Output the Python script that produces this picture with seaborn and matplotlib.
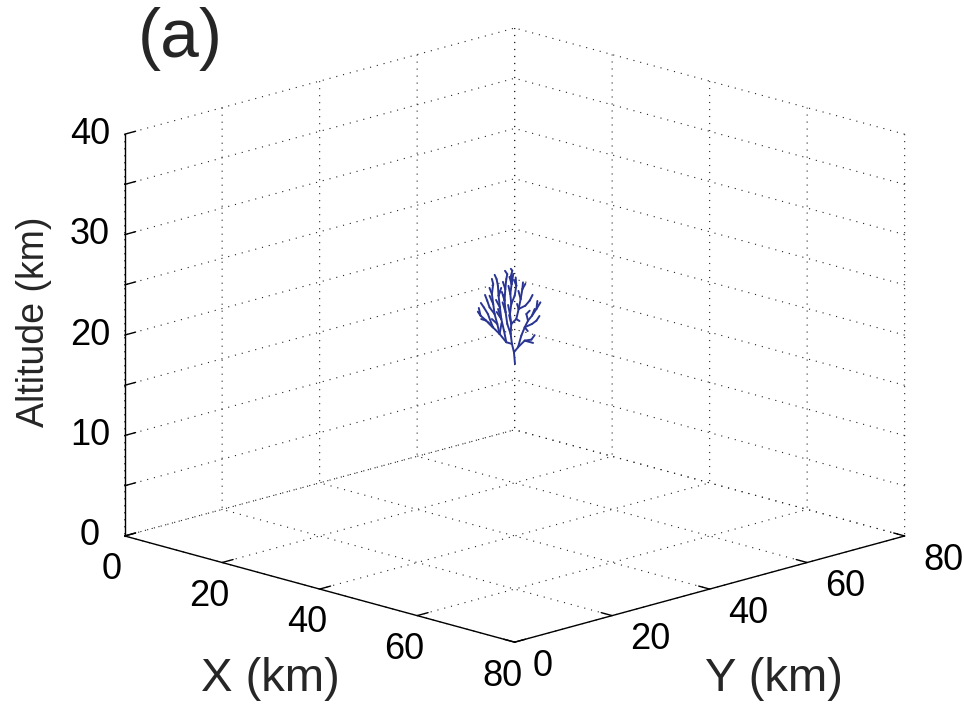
import numpy as np
import matplotlib
matplotlib.use("Agg")
import matplotlib.pyplot as plt
import seaborn as sns

sns.set_theme(style="white")
plt.rcParams["font.family"] = ["Liberation Sans", "DejaVu Sans"]

# Axis ticks (km)
xy_ticks = [0, 20, 40, 60, 80]
xy_labels = ["0", "20", "40", "60", "80"]
z_ticks = [0, 5, 10, 15, 20, 25, 30, 35, 40]
z_labels = ["0", "", "10", "", "20", "", "30", "", "40"]

# Streamer tree: node offset across the line of sight (km), altitude (km), parent node
tree_h = [0.05, -0.10, -0.39, -0.58, -0.49, -0.68, -0.49, -0.63, -0.44, -0.53,
          -0.34, -1.21, -2.18, -3.16, -4.13, -4.95, -5.34, -2.52, -2.91, -3.11,
          -3.30, -3.11, -3.88, -4.47, -4.85, -1.55, -1.94, -2.14, -2.33, -2.43,
          -2.62, -1.07, -1.31, -1.46, -1.36, -1.21, -1.07, -1.75, -3.64, -3.98,
          -3.64, 0.49, 1.46, 2.43, 2.67, 0.97, 1.46, 1.94, 2.52, 3.16,
          3.74, 0.24, 0.58, 0.87, 1.12, 1.21, 1.55, 2.18, 0.00, 0.24,
          0.15, 2.52, 3.16, 1.70, 2.18, -0.95, -0.90, -0.75, -2.60, -2.70,
          -1.95, -1.85, -1.70, -3.65, -3.30, -4.90, -5.20, 0.55, 1.55, 2.60,
          3.30, 2.90, 3.60, 2.90, -0.10, -0.55, -1.40, -2.90, -3.30, -4.30,
          -1.90, -0.20, -1.60, -2.40, -0.80, 0.70, 1.90, -3.90, -2.10, 0.35]
tree_z = [17.13, 18.29, 19.12, 20.11, 21.11, 22.10, 23.09, 24.09, 25.08, 25.91,
          26.41, 19.29, 20.11, 20.78, 21.44, 21.94, 22.33, 21.11, 22.10, 23.09,
          24.09, 25.08, 22.10, 22.76, 21.60, 20.45, 21.60, 22.76, 23.92, 24.92,
          25.58, 21.11, 22.27, 23.43, 24.58, 25.58, 26.07, 23.26, 22.76, 23.43,
          23.92, 18.79, 19.45, 19.55, 19.22, 19.95, 20.78, 21.44, 21.94, 22.60,
          23.26, 21.60, 22.60, 23.59, 24.58, 25.25, 22.93, 23.43, 23.92, 24.92,
          25.74, 21.11, 21.44, 22.10, 22.43, 23.00, 24.90, 25.80, 22.30, 23.50,
          24.70, 24.30, 25.30, 24.70, 21.60, 23.20, 22.70, 24.40, 25.10, 24.00,
          23.40, 22.60, 21.90, 20.00, 25.50, 26.60, 26.40, 26.00, 25.60, 24.00,
          21.20, 26.10, 24.00, 22.60, 22.00, 21.40, 20.40, 21.30, 24.40, 23.10]
tree_parent = [-1, 0, 1, 2, 3, 4, 5, 6, 7, 8,
               9, 2, 11, 12, 13, 14, 15, 12, 17, 18,
               19, 20, 13, 22, 14, 11, 25, 26, 27, 28,
               29, 3, 31, 32, 33, 34, 35, 32, 18, 38,
               19, 1, 41, 42, 42, 41, 45, 46, 47, 48,
               49, 4, 51, 52, 53, 54, 52, 56, 6, 58,
               59, 46, 61, 47, 63, 5, 7, 8, 26, 27,
               28, 33, 34, 20, 17, 23, 15, 53, 54, 57,
               49, 48, 62, 43, 59, 10, 36, 30, 21, 39,
               12, 8, 33, 26, 4, 51, 46, 13, 28, 52]
tree_origin = (40.0, 40.0)

fig = plt.figure(figsize=(9.64, 7.04), dpi=100)
ax = fig.add_axes([0.024, 0.0105, 1.0, 1.0], projection="3d")
ax.set_proj_type("ortho")
ax.view_init(elev=15.8, azim=-45)
ax.set_box_aspect((1, 1, 0.757), zoom=1.22)

# one segment from every node to its parent
line_color = "#2a3593"
s2 = np.sqrt(2.0)
for i, p in enumerate(tree_parent):
    if p < 0:
        continue
    xs = [tree_origin[0] + tree_h[p] / s2, tree_origin[0] + tree_h[i] / s2]
    ys = [tree_origin[1] + tree_h[p] / s2, tree_origin[1] + tree_h[i] / s2]
    zs = [tree_z[p], tree_z[i]]
    ax.plot(xs, ys, zs, color=line_color, lw=1.4, solid_capstyle="round")

ax.set_xlim(0, 80)
ax.set_ylim(0, 80)
ax.set_zlim(0, 40)
ax.set_xticks(xy_ticks)
ax.set_yticks(xy_ticks)
ax.set_zticks(z_ticks)
ax.set_xticklabels(xy_labels)
ax.set_yticklabels(xy_labels)
ax.set_zticklabels(z_labels)
ax.zaxis.set_ticks_position("lower")
ax.zaxis.set_label_position("lower")

dotted = (0, (1, 5.3))
for axis in (ax.xaxis, ax.yaxis, ax.zaxis):
    axis.set_pane_color((1, 1, 1, 0))
    axis.pane.set_edgecolor("none")
    axis.line.set_color("black")
    axis.line.set_linewidth(1.0)
    axis._axinfo["tick"]["inward_factor"] = 0.0
    axis._axinfo["tick"]["outward_factor"] = 0.35
    axis._axinfo["tick"]["linewidth"] = {True: 1.0, False: 0.8}
    axis._axinfo["tick"]["color"] = "black"
    axis._axinfo["grid"]["linestyle"] = dotted
    axis._axinfo["grid"]["color"] = "#222222"
    axis._axinfo["grid"]["linewidth"] = 0.8

ax.tick_params(axis="x", labelsize=26, colors="black", pad=0.5)
ax.tick_params(axis="y", labelsize=26, colors="black", pad=4.5)
ax.tick_params(axis="z", labelsize=26, colors="black", pad=3.7)
for lbl in ax.get_xticklabels():
    lbl.set_ha("center")
    lbl.set_va("top")
for lbl in ax.get_yticklabels():
    lbl.set_ha("left")
    lbl.set_va("center")
for lbl in ax.get_zticklabels():
    lbl.set_ha("center")
    lbl.set_va("center")
ax.grid(True)

fig.text(0.28, 0.035, "X (km)", fontsize=34, ha="center", va="center")
fig.text(0.803, 0.035, "Y (km)", fontsize=34, ha="center", va="center")
fig.text(0.035, 0.543, "Altitude (km)", fontsize=27, rotation=90, ha="center", va="center")
fig.text(0.187, 0.945, "(a)", fontsize=50, ha="center", va="center")

fig.savefig("out.png", dpi=100)
